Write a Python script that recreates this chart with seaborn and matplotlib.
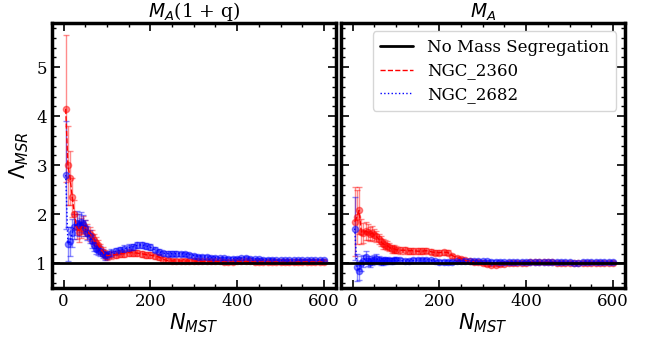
import numpy as np
import pandas as pd
import matplotlib
matplotlib.use("Agg")
import matplotlib.pyplot as plt
from matplotlib.ticker import MultipleLocator
import seaborn as sns

# Number of MST members used at each step
n_mst = [5, 10, 15, 20, 25, 30, 35, 40, 45, 50, 55, 60, 65, 70, 75, 80, 85, 90, 95, 100,
         110, 120, 130, 140, 150, 160, 170, 180, 190, 200, 210, 220, 230, 240, 250,
         260, 270, 280, 290, 300, 310, 320, 330, 340, 350, 360, 370, 380, 390, 400,
         410, 420, 430, 440, 450, 460, 470, 480, 490, 500, 510, 520, 530, 540, 550,
         560, 570, 580, 590, 600]

# Lambda_MSR with mass weighted by (1 + q)
lam_q_2360 = [4.15, 3.0, 2.75, 2.35, 2.0, 1.75, 1.65, 1.72, 1.78, 1.72, 1.65, 1.6, 1.55, 1.48, 1.42, 1.38, 1.3, 1.24, 1.18, 1.16,
              1.17, 1.18, 1.2, 1.2, 1.22, 1.22, 1.21, 1.2, 1.18, 1.17, 1.15, 1.13, 1.08, 1.06, 1.05,
              1.05, 1.05, 1.05, 1.05, 1.05, 1.04, 1.04, 1.04, 1.04, 1.04, 1.04, 1.03, 1.03, 1.03, 1.04,
              1.04, 1.04, 1.04, 1.03, 1.03, 1.03, 1.03, 1.03, 1.03, 1.02, 1.02, 1.02, 1.02, 1.03, 1.03,
              1.03, 1.03, 1.03, 1.03, 1.03]
err_q_2360 = [1.5, 0.8, 0.55, 0.4, 0.3, 0.25, 0.22, 0.2, 0.18, 0.16, 0.15, 0.14, 0.13, 0.12, 0.11, 0.1, 0.1, 0.09, 0.09, 0.08,
              0.08, 0.07, 0.07, 0.07, 0.07, 0.06, 0.06, 0.06, 0.06, 0.06, 0.05, 0.05, 0.05, 0.05, 0.05,
              0.05, 0.04, 0.04, 0.04, 0.04, 0.04, 0.04, 0.04, 0.04, 0.04, 0.03, 0.03, 0.03, 0.03, 0.03,
              0.03, 0.03, 0.03, 0.03, 0.03, 0.03, 0.03, 0.03, 0.03, 0.03, 0.03, 0.03, 0.03, 0.03, 0.03,
              0.03, 0.03, 0.03, 0.03, 0.03]
lam_q_2682 = [2.8, 1.4, 1.45, 1.62, 1.75, 1.82, 1.78, 1.85, 1.8, 1.72, 1.62, 1.55, 1.45, 1.38, 1.3, 1.28, 1.25, 1.2, 1.17, 1.18,
              1.22, 1.25, 1.27, 1.3, 1.32, 1.34, 1.37, 1.38, 1.36, 1.33, 1.28, 1.24, 1.21, 1.2, 1.2,
              1.2, 1.2, 1.19, 1.18, 1.16, 1.14, 1.13, 1.13, 1.12, 1.12, 1.11, 1.11, 1.1, 1.1, 1.1,
              1.11, 1.12, 1.1, 1.09, 1.09, 1.08, 1.08, 1.08, 1.07, 1.06, 1.06, 1.06, 1.06, 1.07, 1.07,
              1.07, 1.07, 1.07, 1.07, 1.07]
err_q_2682 = [1.1, 0.35, 0.3, 0.28, 0.26, 0.24, 0.22, 0.2, 0.18, 0.16, 0.15, 0.14, 0.13, 0.12, 0.11, 0.1, 0.1, 0.09, 0.09, 0.08,
              0.08, 0.07, 0.07, 0.07, 0.07, 0.06, 0.06, 0.06, 0.06, 0.06, 0.05, 0.05, 0.05, 0.05, 0.05,
              0.05, 0.04, 0.04, 0.04, 0.04, 0.04, 0.04, 0.04, 0.04, 0.04, 0.03, 0.03, 0.03, 0.03, 0.03,
              0.03, 0.03, 0.03, 0.03, 0.03, 0.03, 0.03, 0.03, 0.03, 0.03, 0.03, 0.03, 0.03, 0.03, 0.03,
              0.03, 0.03, 0.03, 0.03, 0.03]

# Lambda_MSR with primary mass only
lam_a_2360 = [1.85, 1.95, 2.08, 1.65, 1.62, 1.66, 1.64, 1.6, 1.62, 1.58, 1.55, 1.5, 1.45, 1.4, 1.38, 1.36, 1.33, 1.3, 1.3, 1.28,
              1.27, 1.27, 1.26, 1.26, 1.25, 1.25, 1.26, 1.24, 1.22, 1.22, 1.23, 1.22, 1.16, 1.12, 1.1,
              1.06, 1.04, 1.03, 1.02, 1.0, 0.98, 0.97, 0.97, 0.98, 0.99, 1.0, 1.0, 1.01, 1.01, 1.01,
              1.02, 1.02, 1.02, 1.02, 1.02, 1.02, 1.01, 1.01, 1.01, 1.01, 1.01, 1.0, 1.01, 1.01, 1.01,
              1.01, 1.01, 1.01, 1.01, 1.01]
err_a_2360 = [0.7, 0.55, 0.47, 0.25, 0.2, 0.18, 0.16, 0.15, 0.14, 0.13, 0.12, 0.11, 0.1, 0.1, 0.09, 0.09, 0.08, 0.08, 0.08, 0.07,
              0.07, 0.07, 0.06, 0.06, 0.06, 0.06, 0.05, 0.05, 0.05, 0.05, 0.05, 0.05, 0.04, 0.04, 0.04,
              0.04, 0.04, 0.04, 0.03, 0.03, 0.03, 0.03, 0.03, 0.03, 0.03, 0.03, 0.03, 0.03, 0.03, 0.03,
              0.02, 0.02, 0.02, 0.02, 0.02, 0.02, 0.02, 0.02, 0.02, 0.02, 0.02, 0.02, 0.02, 0.02, 0.02,
              0.02, 0.02, 0.02, 0.02, 0.02]
lam_a_2682 = [1.71, 0.92, 0.85, 1.0, 1.05, 1.13, 1.05, 1.02, 1.06, 1.08, 1.1, 1.07, 1.05, 1.04, 1.06, 1.05, 1.06, 1.05, 1.06, 1.07,
              1.06, 1.05, 1.05, 1.06, 1.07, 1.07, 1.08, 1.06, 1.04, 1.02, 1.02, 1.03, 1.03, 1.04, 1.04,
              1.04, 1.04, 1.04, 1.04, 1.04, 1.04, 1.03, 1.03, 1.03, 1.03, 1.03, 1.03, 1.03, 1.03, 1.03,
              1.03, 1.03, 1.03, 1.02, 1.02, 1.02, 1.02, 1.02, 1.02, 1.02, 1.01, 1.01, 1.02, 1.02, 1.02,
              1.02, 1.02, 1.02, 1.02, 1.02]
err_a_2682 = [0.65, 0.27, 0.18, 0.15, 0.13, 0.12, 0.11, 0.1, 0.1, 0.09, 0.09, 0.08, 0.08, 0.07, 0.07, 0.07, 0.06, 0.06, 0.06, 0.06,
              0.05, 0.05, 0.05, 0.05, 0.05, 0.04, 0.04, 0.04, 0.04, 0.04, 0.04, 0.04, 0.03, 0.03, 0.03,
              0.03, 0.03, 0.03, 0.03, 0.03, 0.03, 0.03, 0.03, 0.03, 0.02, 0.02, 0.02, 0.02, 0.02, 0.02,
              0.02, 0.02, 0.02, 0.02, 0.02, 0.02, 0.02, 0.02, 0.02, 0.02, 0.02, 0.02, 0.02, 0.02, 0.02,
              0.02, 0.02, 0.02, 0.02, 0.02]

panel_titles = ["$M_A$(1 + q)", "$M_A$"]
cluster_names = ["NGC_2360", "NGC_2682"]
cluster_colors = ["red", "blue"]
cluster_styles = ["--", ":"]

sns.set_style("ticks")
plt.rcParams["font.family"] = ["DejaVu Serif"]
plt.rcParams["mathtext.fontset"] = "dejavusans"
for key in ["axes.edgecolor", "xtick.color", "ytick.color", "text.color", "axes.labelcolor"]:
    plt.rcParams[key] = "black"

fig = plt.figure(figsize=(6.48, 3.38), dpi=100)
ax_l = fig.add_axes([0.080, 0.148, 0.438, 0.784])
ax_r = fig.add_axes([0.526, 0.148, 0.438, 0.784], sharey=ax_l)

panels = [
    (ax_l, [(lam_q_2360, err_q_2360), (lam_q_2682, err_q_2682)]),
    (ax_r, [(lam_a_2360, err_a_2360), (lam_a_2682, err_a_2682)]),
]

for i, (ax, series) in enumerate(panels):
    ax.axhline(1.0, color="black", lw=2.0, zorder=5, label="No Mass Segregation")
    for (vals, errs), name, col, ls in zip(series, cluster_names, cluster_colors, cluster_styles):
        df = pd.DataFrame({"N": n_mst, "L": vals})
        ax.errorbar(n_mst, vals, yerr=errs, fmt="o", color=col, ms=4.5,
                    alpha=0.45, elinewidth=1.0, capsize=2.5, zorder=3)
        sns.lineplot(data=df, x="N", y="L", color=col, linestyle=ls, lw=1.0,
                     ax=ax, label=name, zorder=4)
    ax.set_title(panel_titles[i], fontsize=13.5, pad=3)
    ax.set_xlabel("$N_{MST}$", fontsize=15, labelpad=1)
    ax.set_xlim(-27, 627)
    ax.set_ylim(0.5, 5.9)
    ax.xaxis.set_major_locator(MultipleLocator(200))
    ax.xaxis.set_minor_locator(MultipleLocator(50))
    ax.yaxis.set_major_locator(MultipleLocator(1))
    ax.yaxis.set_minor_locator(MultipleLocator(0.2))
    ax.tick_params(which="both", direction="in", top=True, right=True, labelsize=12)
    ax.tick_params(which="major", length=6, width=1.2)
    ax.tick_params(which="minor", length=3, width=1.0)
    for sp in ax.spines.values():
        sp.set_linewidth(2.5)
        sp.set_color("black")
    if ax.get_legend() is not None:
        ax.get_legend().remove()

ax_l.set_ylabel("$\\Lambda_{MSR}$", fontsize=15, labelpad=4)
ax_r.set_ylabel("")
ax_r.tick_params(labelleft=False)

ax_r.legend(loc="upper right", fontsize=12, frameon=True, handlelength=2.0,
            borderpad=0.45, labelspacing=0.4, handletextpad=0.8)

fig.savefig("out.png", dpi=100)
